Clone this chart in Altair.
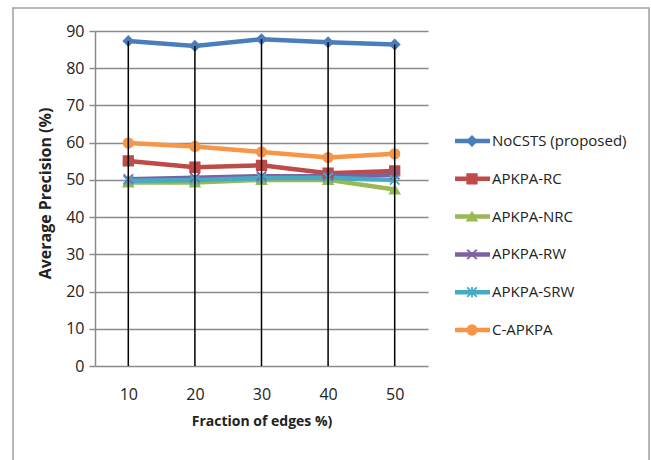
import altair as alt
import pandas as pd

fractions = [10, 20, 30, 40, 50]
series_names = ["NoCSTS (proposed)", "APKPA-RC", "APKPA-NRC", "APKPA-RW", "APKPA-SRW", "C-APKPA"]
nocsts = [87.3, 86.0, 87.8, 87.0, 86.4]
apkpa_rc = [55.1, 53.4, 53.9, 51.8, 52.4]
apkpa_nrc = [49.3, 49.3, 50.0, 50.0, 47.4]
apkpa_rw = [50.2, 50.6, 51.0, 51.0, 51.4]
apkpa_srw = [49.8, 50.0, 50.5, 50.6, 50.0]
c_apkpa = [59.9, 59.0, 57.5, 56.0, 57.0]
y_ticks = [0, 10, 20, 30, 40, 50, 60, 70, 80, 90]

colors = ["#4A7EBB", "#BE4B48", "#98B954", "#7D60A0", "#46AAC5", "#F79646"]
shapes = [
    "diamond",
    "square",
    "triangle-up",
    "M-1,-1L1,1M-1,1L1,-1",
    "M-1,-1L1,1M-1,1L1,-1M0,-1.1L0,1.1",
    "circle",
]

all_values = [nocsts, apkpa_rc, apkpa_nrc, apkpa_rw, apkpa_srw, c_apkpa]
rows = []
for name, vals in zip(series_names, all_values):
    for f, v in zip(fractions, vals):
        rows.append({"fraction": str(f), "series": name, "value": v})
df = pd.DataFrame(rows)
legend_df = pd.DataFrame({"series": series_names, "order": list(range(len(series_names)))})

FONT = "Open Sans"
W, H = 333, 335

color_scale = alt.Scale(domain=series_names, range=colors)
shape_scale = alt.Scale(domain=series_names, range=shapes)
y_scale = alt.Scale(domain=[0, 90], nice=False, zero=True)
x_sort = [str(f) for f in fractions]

x_axis = alt.Axis(
    title="Fraction of edges %)",
    domain=False,
    ticks=False,
    grid=False,
    labelAngle=0,
    labelFontSize=16,
    labelFont=FONT,
    labelColor="#222",
    labelPadding=20,
    titleFont=FONT,
    titleFontSize=14,
    titleFontWeight="bold",
    titleColor="#222",
    titlePadding=12,
)
y_axis = alt.Axis(
    title="Average Precision (%)",
    values=y_ticks,
    tickCount=10,
    labelOverlap=False,
    grid=True,
    gridColor="#8a8a8a",
    gridWidth=1.5,
    domainColor="#8a8a8a",
    domainWidth=1.5,
    tickColor="#8a8a8a",
    tickWidth=1.5,
    tickSize=6,
    labelFontSize=16,
    labelFont=FONT,
    labelColor="#222",
    labelPadding=5,
    titleFont=FONT,
    titleFontSize=16,
    titleFontWeight="bold",
    titleColor="#222",
    titleX=-50,
    titleY=162,
    titleAngle=-90,
    titleAlign="center",
    titleBaseline="middle",
)

x_enc = alt.X("fraction:O", sort=x_sort, scale=alt.Scale(type="point", padding=0.5), axis=x_axis)
y_enc = alt.Y("value:Q", scale=y_scale, axis=y_axis)

base = alt.Chart(df)

# drop lines: from the highest point of each category down to the axis
drops = (
    base.transform_joinaggregate(top="max(value)", groupby=["fraction"])
    .transform_filter("datum.value == datum.top")
    .transform_calculate(floor="0")
    .mark_rule(color="black", strokeWidth=1.5)
    .encode(
        x=x_enc,
        y=alt.Y("top:Q", scale=y_scale, axis=y_axis),
        y2=alt.Y2("floor:Q"),
    )
)

lines = base.mark_line(strokeWidth=4.5).encode(
    x=x_enc,
    y=y_enc,
    color=alt.Color("series:N", scale=color_scale, legend=None),
    detail="series:N",
)

points = base.mark_point(filled=True, size=90, strokeWidth=1.8, opacity=1).encode(
    x=x_enc,
    y=y_enc,
    color=alt.Color("series:N", scale=color_scale, legend=None),
    stroke=alt.Stroke("series:N", scale=color_scale, legend=None),
    shape=alt.Shape("series:N", scale=shape_scale, legend=None),
)

# legend rows: vertical position expressed in the chart's y units
leg_base = alt.Chart(legend_df).transform_calculate(
    ly="90 - (110 + datum.order * 37.8) * 90 / 335"
)
leg_y = alt.Y("ly:Q", scale=y_scale, axis=y_axis)
leg_lines = leg_base.mark_rule(strokeWidth=4.5).encode(
    x=alt.value(360),
    x2=alt.value(395),
    y=leg_y,
    color=alt.Color("series:N", scale=color_scale, legend=None),
)
leg_points = leg_base.mark_point(filled=True, size=90, strokeWidth=1.8, opacity=1).encode(
    x=alt.value(377),
    y=leg_y,
    color=alt.Color("series:N", scale=color_scale, legend=None),
    stroke=alt.Stroke("series:N", scale=color_scale, legend=None),
    shape=alt.Shape("series:N", scale=shape_scale, legend=None),
)
leg_text = leg_base.mark_text(
    align="left", baseline="middle", font=FONT, fontSize=15, color="#222"
).encode(
    x=alt.value(397),
    y=leg_y,
    text="series:N",
)

border = alt.Chart(alt.Data(values=[{"a": 1}])).mark_rect(
    fill="transparent", stroke="#a0a0a0", strokeWidth=1.5
).encode(
    x=alt.value(-82), x2=alt.value(554), y=alt.value(-23), y2=alt.value(440)
)

chart = (
    alt.layer(border, lines, points, drops, leg_lines, leg_points, leg_text)
    .properties(
        width=W,
        height=H,
        autosize=alt.AutoSizeParams(type="none"),
        padding={"left": 95, "top": 31, "right": 223, "bottom": 94},
        background="white",
    )
    .configure_view(stroke=None)
)

chart.save("out.html", embed_options={"renderer": "svg", "actions": False})
